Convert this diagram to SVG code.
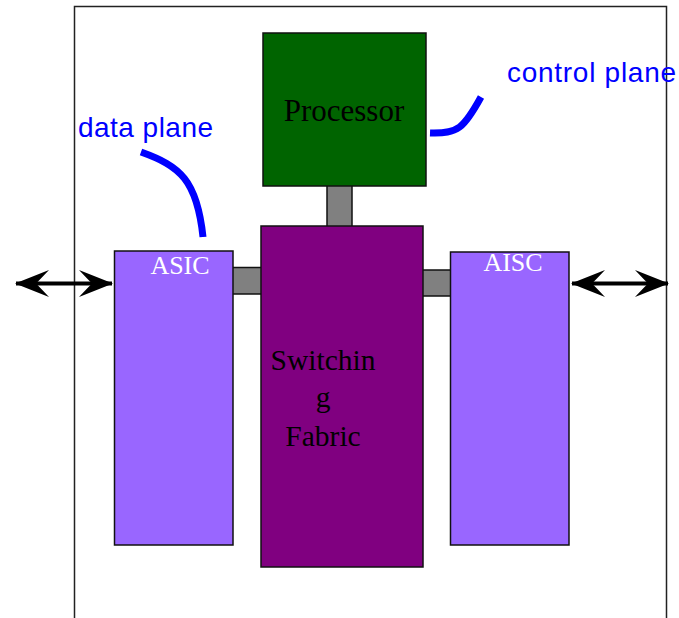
<svg xmlns="http://www.w3.org/2000/svg" width="679" height="618" viewBox="0 0 679 618">
  <style>
    .frame { fill: none; stroke: #222; stroke-width: 1.5; }
    .box { stroke: #111; stroke-width: 1.5; }
    .link { fill: #808080; stroke: #111; stroke-width: 1.5; }
    .serif { font-family: "Liberation Serif", "Times New Roman", serif; text-anchor: middle; }
    .note { font-family: "Liberation Sans", Arial, sans-serif; font-size: 28px; fill: #0000ff; }
    .callout { fill: none; stroke: #0000ff; stroke-width: 7; }
    .io { stroke: #000; stroke-width: 4; fill: none; }
  </style>
  <defs>
    <marker id="barb" viewBox="-35 -15 37 30" refX="0" refY="0" markerUnits="userSpaceOnUse" markerWidth="37" markerHeight="30" orient="auto-start-reverse">
      <path d="M1,0 L-33,-13.5 Q-24,-4 -20,0 Q-24,4 -33,13.5 Z" fill="#000"/>
    </marker>
  </defs>

  <rect width="679" height="618" fill="#fff"/>

  <!-- enclosing chassis, open at the bottom -->
  <path class="frame" d="M74.5,618 V6.5 H666.5 V618"/>

  <!-- connectors -->
  <g id="connectors">
    <rect class="link" x="327" y="185" width="25" height="42"/>
    <rect class="link" x="232" y="267.5" width="30" height="26.5"/>
    <rect class="link" x="422" y="270" width="29" height="26"/>
    <line class="io" x1="16" y1="283.5" x2="112" y2="283.5" marker-start="url(#barb)" marker-end="url(#barb)"/>
    <line class="io" x1="572" y1="283.5" x2="668" y2="283.5" marker-start="url(#barb)" marker-end="url(#barb)"/>
  </g>

  <g id="processor">
    <rect class="box" x="263" y="33" width="163" height="153" fill="#006400"/>
    <text class="serif" x="344" y="121" font-size="31" fill="#000">Processor</text>
  </g>

  <g id="switching-fabric">
    <rect class="box" x="261" y="226" width="162" height="341" fill="#800080"/>
    <text class="serif" x="323" y="370" font-size="29.5" fill="#000">Switchin</text>
    <text class="serif" x="323" y="407" font-size="29.5" fill="#000">g</text>
    <text class="serif" x="323" y="446" font-size="29.5" fill="#000">Fabric</text>
  </g>

  <g id="asic-left">
    <rect class="box" x="114.5" y="251" width="118.5" height="294" fill="#9966ff"/>
    <text class="serif" x="180" y="274" font-size="26" fill="#fff">ASIC</text>
  </g>

  <g id="asic-right">
    <rect class="box" x="450.5" y="252" width="118.5" height="293" fill="#9966ff"/>
    <text class="serif" x="513" y="271" font-size="26" fill="#fff">AISC</text>
  </g>

  <g id="data-plane-label">
    <text class="note" x="78" y="137" textLength="135" lengthAdjust="spacing">data plane</text>
    <path class="callout" d="M141,152 C180,166 197,180 203,237"/>
  </g>

  <g id="control-plane-label">
    <text class="note" x="507" y="82" textLength="169" lengthAdjust="spacing">control plane</text>
    <path class="callout" d="M430,133 C458,134 464,128 481,97"/>
  </g>
</svg>
